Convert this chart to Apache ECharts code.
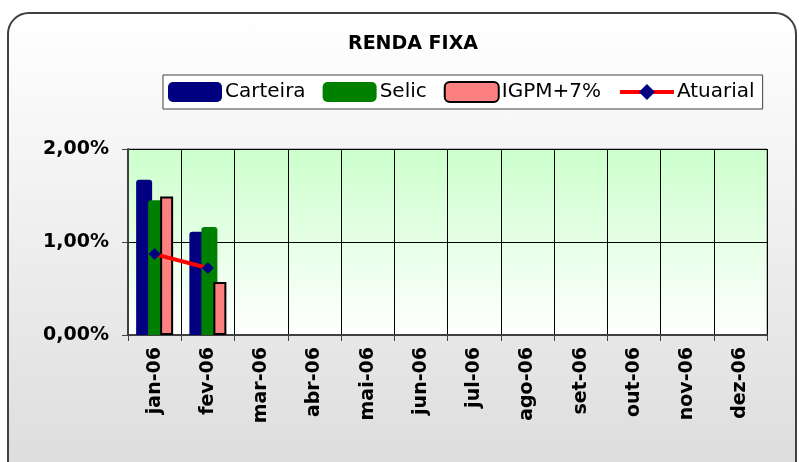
<!DOCTYPE html>
<html>
<head>
<meta charset="utf-8">
<script src="https://cdn.jsdelivr.net/npm/echarts@6/dist/echarts.min.js"></script>
<style>
  html, body { margin: 0; padding: 0; background: #ffffff; }
  .frame {
    position: absolute; left: 7px; top: 12px; width: 786px; height: 470px;
    border: 2px solid #404040; border-radius: 22px;
    background: linear-gradient(#ffffff, #dcdcdc);
  }
  #chart { position: absolute; left: 0; top: 0; width: 799px; height: 462px; }
</style>
</head>
<body>
<div class="frame"></div>
<div id="chart"></div>
<script>
// dados
const meses = ["jan-06", "fev-06", "mar-06", "abr-06", "mai-06", "jun-06",
  "jul-06", "ago-06", "set-06", "out-06", "nov-06", "dez-06"];
const carteira = [1.67, 1.11];
const selic = [1.45, 1.16];
const igpm = [1.49, 0.57];
const atuarial = [0.87, 0.72];

const myChart = echarts.init(document.getElementById("chart"));
const fonte = "DejaVu Sans, Verdana, sans-serif";

const option = {
  backgroundColor: "transparent",
  animation: false,
  title: {
    text: "RENDA FIXA",
    left: 408,
    top: 30,
    textAlign: "center",
    textStyle: { fontFamily: fonte, fontSize: 19, fontWeight: "bold", color: "#000" },
  },
  legend: {
    data: ["Carteira", "Selic", "IGPM+7%", { name: "Atuarial", lineStyle: { width: 4 } }],
    left: 163,
    top: 75,
    padding: [6, 8, 6, 5],
    itemWidth: 54,
    itemHeight: 20,
    itemGap: 17,
    borderColor: "#404040",
    borderWidth: 1,
    backgroundColor: "#ffffff",
    textStyle: { fontFamily: fonte, fontSize: 20, color: "#000", padding: [0, 0, 0, -2] },
  },
  grid: {
    left: 128,
    top: 149,
    width: 639,
    height: 186,
    show: true,
    borderColor: "#808080",
    borderWidth: 1,
    backgroundColor: new echarts.graphic.LinearGradient(0, 0, 0, 1, [
      { offset: 0, color: "#ccffcc" },
      { offset: 1, color: "#ffffff" },
    ]),
  },
  xAxis: {
    type: "category",
    data: meses,
    boundaryGap: true,
    axisLine: { lineStyle: { color: "#404040", width: 2 } },
    axisTick: { show: true, length: 6, lineStyle: { color: "#404040" } },
    splitLine: { show: true, interval: 0, lineStyle: { color: "#000", width: 1 } },
    axisLabel: {
      rotate: 90,
      interval: 0,
      margin: 12,
      fontFamily: fonte,
      fontSize: 19,
      fontWeight: "bold",
      color: "#000",
    },
  },
  yAxis: {
    type: "value",
    min: 0,
    max: 2,
    interval: 1,
    axisLine: { show: true, lineStyle: { color: "#404040", width: 2 } },
    axisTick: { show: true, length: 6, lineStyle: { color: "#404040" } },
    splitLine: { show: true, lineStyle: { color: "#000", width: 1 } },
    axisLabel: {
      margin: 19,
      fontFamily: fonte,
      fontSize: 19,
      fontWeight: "bold",
      color: "#000",
      formatter: (v) => v.toFixed(2).replace(".", ",") + "%",
    },
  },
  series: [
    {
      name: "Carteira",
      type: "bar",
      barWidth: 16,
      barGap: "-25%",
      data: carteira,
      itemStyle: { color: "#000080", borderRadius: [3, 3, 0, 0] },
    },
    {
      name: "Selic",
      type: "bar",
      barWidth: 16,
      barGap: "-25%",
      data: selic,
      itemStyle: { color: "#008000", borderRadius: [3, 3, 0, 0] },
    },
    {
      name: "IGPM+7%",
      type: "bar",
      barWidth: 13,
      barGap: "-25%",
      data: igpm,
      itemStyle: { color: "#ff8080", borderColor: "#000", borderWidth: 2 },
    },
    {
      name: "Atuarial",
      type: "line",
      data: atuarial,
      symbol: "diamond",
      symbolSize: 12,
      z: 5,
      lineStyle: { color: "#ff0000", width: 4 },
      itemStyle: { color: "#000080" },
    },
  ],
};

myChart.setOption(option);
</script>
</body>
</html>
